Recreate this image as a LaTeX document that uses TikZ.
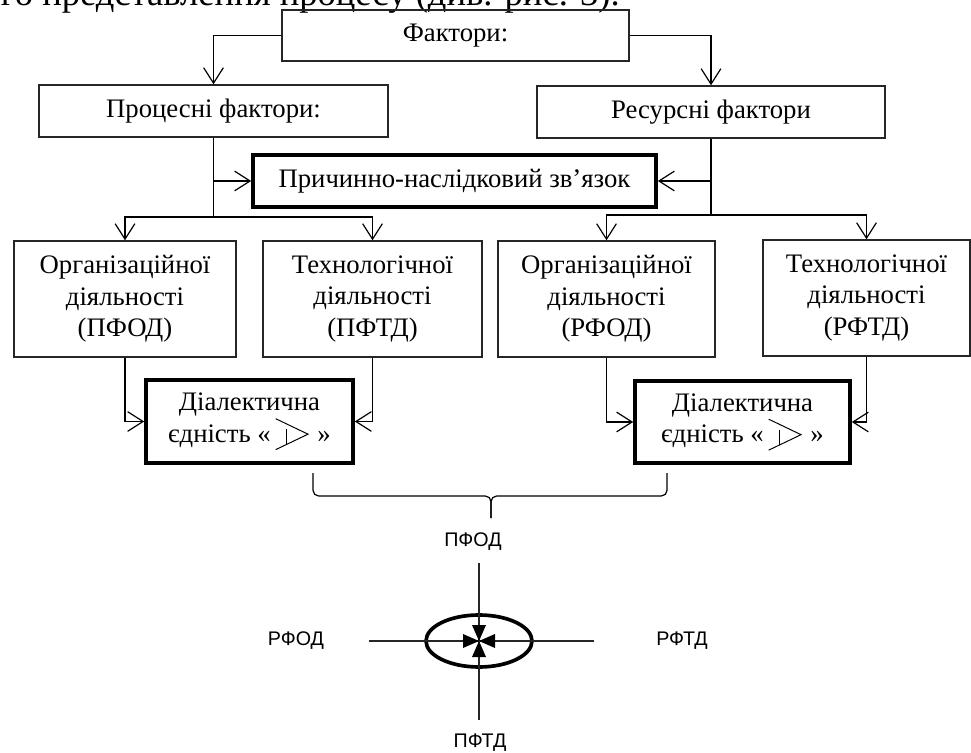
\documentclass[tikz,border=0pt]{standalone}
\usepackage{fontspec}
\setmainfont{Liberation Serif}
\newfontfamily\labfont{Liberation Sans}
\usepackage{tikz}
\usetikzlibrary{arrows.meta, positioning, shapes.geometric}

\newcommand{\pxu}{0.025cm}
\newcommand{\dialmark}{\tikz[baseline=-5.7pt, x=1pt, y=1pt, line width=0.7pt]{%
    \draw (0,11) -- (23,0) -- (0,-11);
    \draw (8,3.6) -- (8,-7.2);}}

\begin{document}
\begin{tikzpicture}
                            [x=\pxu, y=-\pxu,
                             every node/.style={font=\fontsize{19}{22.5}\selectfont, align=center},
                             box/.style={draw=black!85, line width=1pt, minimum height=52*\pxu},
                             rowbox/.style={box, minimum height=116*\pxu},
                             boldbox/.style={draw, line width=2.6pt},
                             link/.style={draw, line width=0.85pt},
                             arr/.style={link, -{Straight Barb[length=11pt, width=14pt]}},
                             lab/.style={font=\labfont\fontsize{14}{16}\selectfont, inner sep=0pt},
                             axis/.style={draw, line width=0.9pt, black!85}]

                            \useasboundingbox (0,0) rectangle (971,753);

                            % line of the text above, cut by the page
                            \node[anchor=base east, inner sep=0pt, font=\fontsize{26}{30}\selectfont] (txt) at (620,6)
                                {го представлення процесу (див. рис. 3).};

                            \node[box, minimum width=347*\pxu, minimum height=51*\pxu] (fakt) at (455.5,35.5) {Фактори:};
                            \node[box, minimum width=349*\pxu] (proc) at (213.5,111) {Процесні фактори:};
                            \node[box, minimum width=348*\pxu] (res) at (711,112) {Ресурсні фактори};
                            \node[boldbox, minimum width=403*\pxu, minimum height=52*\pxu] (cause) at (454.5,181)
                                {Причинно-наслідковий зв’язок};

                            \node[rowbox, minimum width=222*\pxu] (pfod) at (125,299) {Організаційної\\діяльності\\(ПФОД)};
                            \node[rowbox, minimum width=219*\pxu] (pftd) at (372.5,299) {Технологічної\\діяльності\\(ПФТД)};
                            \node[rowbox, minimum width=217*\pxu] (rfod) at (606.5,299) {Організаційної\\діяльності\\(РФОД)};
                            \node[rowbox, minimum width=207*\pxu] (rftd) at (866.5,298) {Технологічної\\діяльності\\(РФТД)};

                            \node[boldbox, minimum width=207*\pxu, minimum height=83*\pxu] (dl) at (249.5,421.5)
                                {Діалектична\\єдність «\,\dialmark\,\,»};
                            \node[boldbox, minimum width=215*\pxu, minimum height=82*\pxu] (dr) at (742.5,422)
                                {Діалектична\\єдність «\,\dialmark\,\,»};

                            \coordinate (pbus) at (213.5,217);
                            \coordinate (rbus) at (711,215);

                            \draw[arr] (fakt.west) -| (proc.north);
                            \draw[arr] (fakt.east) -| (res.north);
                            \draw[link] (proc.south) -- (pbus);
                            \draw[link] (res.south) -- (rbus);
                            \draw[arr] (proc.south |- cause.west) -- (cause.west);
                            \draw[arr] (res.south |- cause.east) -- (cause.east);
                            \draw[arr] (pbus) -| (pfod.north);
                            \draw[arr] (pbus) -| (pftd.north);
                            \draw[arr] (rbus) -| (rfod.north);
                            \draw[arr] (rbus) -| (rftd.north);
                            \draw[arr] (pfod.south) |- (dl.west);
                            \draw[arr] (pftd.south) |- (dl.east);
                            \draw[arr] (rfod.south) |- (dr.west);
                            \draw[arr] (rftd.south) |- (dr.east);

                            % brace under both unities
                            \coordinate (bl) at (313,473);
                            \coordinate (br) at (667,473);
                            \coordinate (btip) at (491,518);
                            \draw[link, rounded corners=4pt] (bl) -- (bl |- 0,496) -- (btip |- 0,496) -- (btip);
                            \draw[link, rounded corners=4pt] (br) -- (br |- 0,496) -- (btip |- 0,496) -- (btip);

                            \node[lab] (pfodl) at (473,542) {ПФОД};
                            \node[lab] (rfodl) at (296,641) {РФОД};
                            \node[lab] (rftdl) at (682,641) {РФТД};
                            \node[lab] (pftdl) at (480,743) {ПФТД};
                            \node[draw, ellipse, line width=2.6pt, minimum width=106*\pxu, minimum height=52*\pxu] (hub) at (479,641) {};

                            \draw[axis, shorten <=8.7pt, shorten >=10pt] (pfodl.south -| hub.center) -- (pftdl.north -| hub.center);
                            \draw[axis, shorten <=31.6pt, shorten >=44pt] (rfodl) -- (rftdl);
                            \foreach \a in {0,90,180,270}
                                \fill[rotate around={\a:(hub.center)}] (hub.center) -- ++(-16,-7) -- ++(0,14) -- cycle;
                        \end{tikzpicture}
\end{document}
